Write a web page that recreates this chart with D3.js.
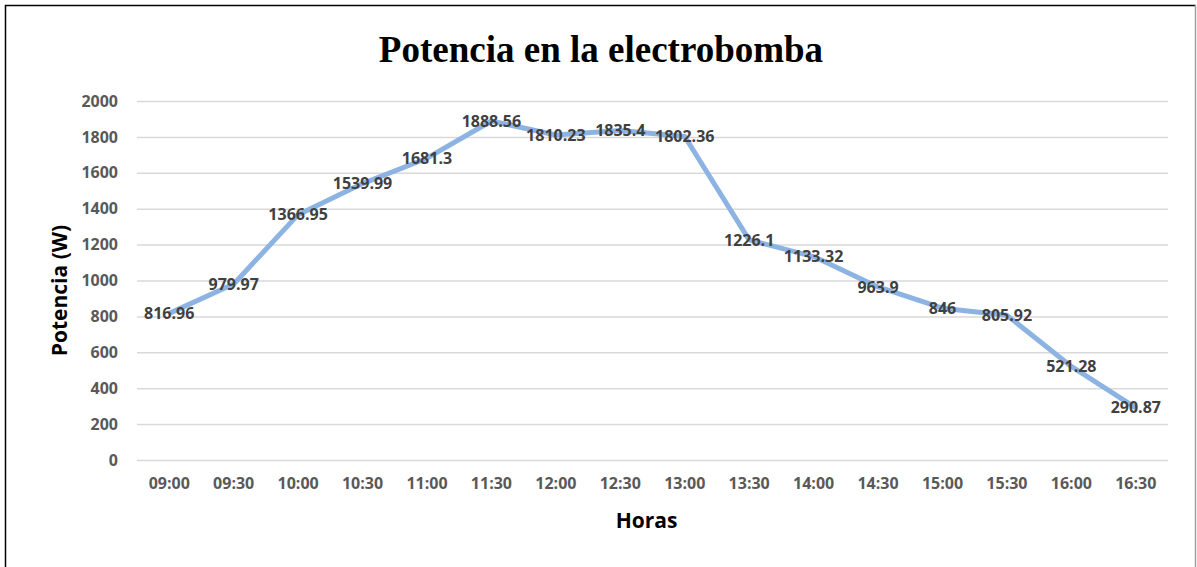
<!DOCTYPE html>
<html>
<head>
<meta charset="utf-8">
<script src="https://cdn.jsdelivr.net/npm/d3@7"></script>
<style>
body { margin: 0; background: #fff; }
svg text { font-family: "Open Sans", "Noto Sans", sans-serif; }
</style>
</head>
<body>
<div id="chart"></div>
<script>
var horas = ["09:00", "09:30", "10:00", "10:30", "11:00", "11:30", "12:00", "12:30",
	"13:00", "13:30", "14:00", "14:30", "15:00", "15:30", "16:00", "16:30"];
var potencia = [816.96, 979.97, 1366.95, 1539.99, 1681.3, 1888.56, 1810.23, 1835.4,
	1802.36, 1226.1, 1133.32, 963.9, 846, 805.92, 521.28, 290.87];
var yTicks = [0, 200, 400, 600, 800, 1000, 1200, 1400, 1600, 1800, 2000];

var W = 1197, H = 567;
var margin = { top: 101, right: 29, bottom: 107, left: 137 },
	width = W - margin.left - margin.right,
	height = H - margin.top - margin.bottom;

var svg = d3.select("#chart").append("svg")
	.attr("width", W)
	.attr("height", H);

// marco
svg.append("path")
	.attr("d", "M5.5,567 V5.5 H1195.5")
	.attr("fill", "none")
	.attr("stroke", "#000")
	.attr("stroke-width", 1.5);
svg.append("line")
	.attr("x1", 1195.5).attr("x2", 1195.5).attr("y1", 5).attr("y2", 567)
	.attr("stroke", "#a0a0a0").attr("stroke-width", 1.5);

var x = d3.scaleBand().domain(horas).range([0, width]);
var y = d3.scaleLinear().domain([0, 2000]).range([height, 0]);

var g = svg.append("g")
	.attr("transform", "translate(" + margin.left + "," + margin.top + ")");

var yAxis = d3.axisLeft(y).tickValues(yTicks).tickFormat(d3.format("d"))
	.tickSize(-width).tickPadding(19);
g.append("g")
	.attr("class", "axis axis--y")
	.call(yAxis)
	.call(function (s) {
		s.select(".domain").remove();
		s.selectAll("line").attr("stroke", "#d9d9d9").attr("stroke-width", 1.5);
		s.selectAll("text").attr("fill", "#595959").style("font-size", "16px").style("font-weight", "bold");
	});

var xAxis = d3.axisBottom(x).tickSize(0).tickPadding(18);
g.append("g")
	.attr("class", "axis axis--x")
	.attr("transform", "translate(0," + height + ")")
	.call(xAxis)
	.call(function (s) {
		s.select(".domain").remove();
		s.selectAll("text").attr("fill", "#595959").style("font-size", "16px").style("font-weight", "bold");
	});

var line = d3.line()
	.x(function (d, i) { return x(horas[i]) + x.bandwidth() / 2; })
	.y(function (d) { return y(d); });

g.append("path")
	.datum(potencia)
	.attr("fill", "none")
	.attr("stroke", "#8db3e2")
	.attr("stroke-width", 5)
	.attr("stroke-linejoin", "round")
	.attr("d", line);

g.selectAll(".etiqueta")
	.data(potencia)
	.enter().append("text")
	.attr("class", "etiqueta")
	.attr("x", function (d, i) { return x(horas[i]) + x.bandwidth() / 2; })
	.attr("y", function (d) { return y(d); })
	.attr("dy", "0.35em")
	.attr("text-anchor", "middle")
	.attr("fill", "#404040")
	.style("font-size", "16px")
	.style("font-weight", "bold")
	.text(function (d) { return d; });

svg.append("text")
	.attr("x", 601)
	.attr("y", 62)
	.attr("text-anchor", "middle")
	.style("font-family", "'Liberation Serif', 'DejaVu Serif', serif")
	.style("font-size", "37px")
	.style("font-weight", "bold")
	.text("Potencia en la electrobomba");

svg.append("text")
	.attr("transform", "translate(67," + (margin.top + height / 2 + 10) + ") rotate(-90)")
	.attr("text-anchor", "middle")
	.style("font-size", "21px")
	.style("font-weight", "bold")
	.text("Potencia (W)");

svg.append("text")
	.attr("x", margin.left + width / 2 - 6)
	.attr("y", 528)
	.attr("text-anchor", "middle")
	.style("font-size", "21px")
	.style("font-weight", "bold")
	.text("Horas");
</script>
</body>
</html>
